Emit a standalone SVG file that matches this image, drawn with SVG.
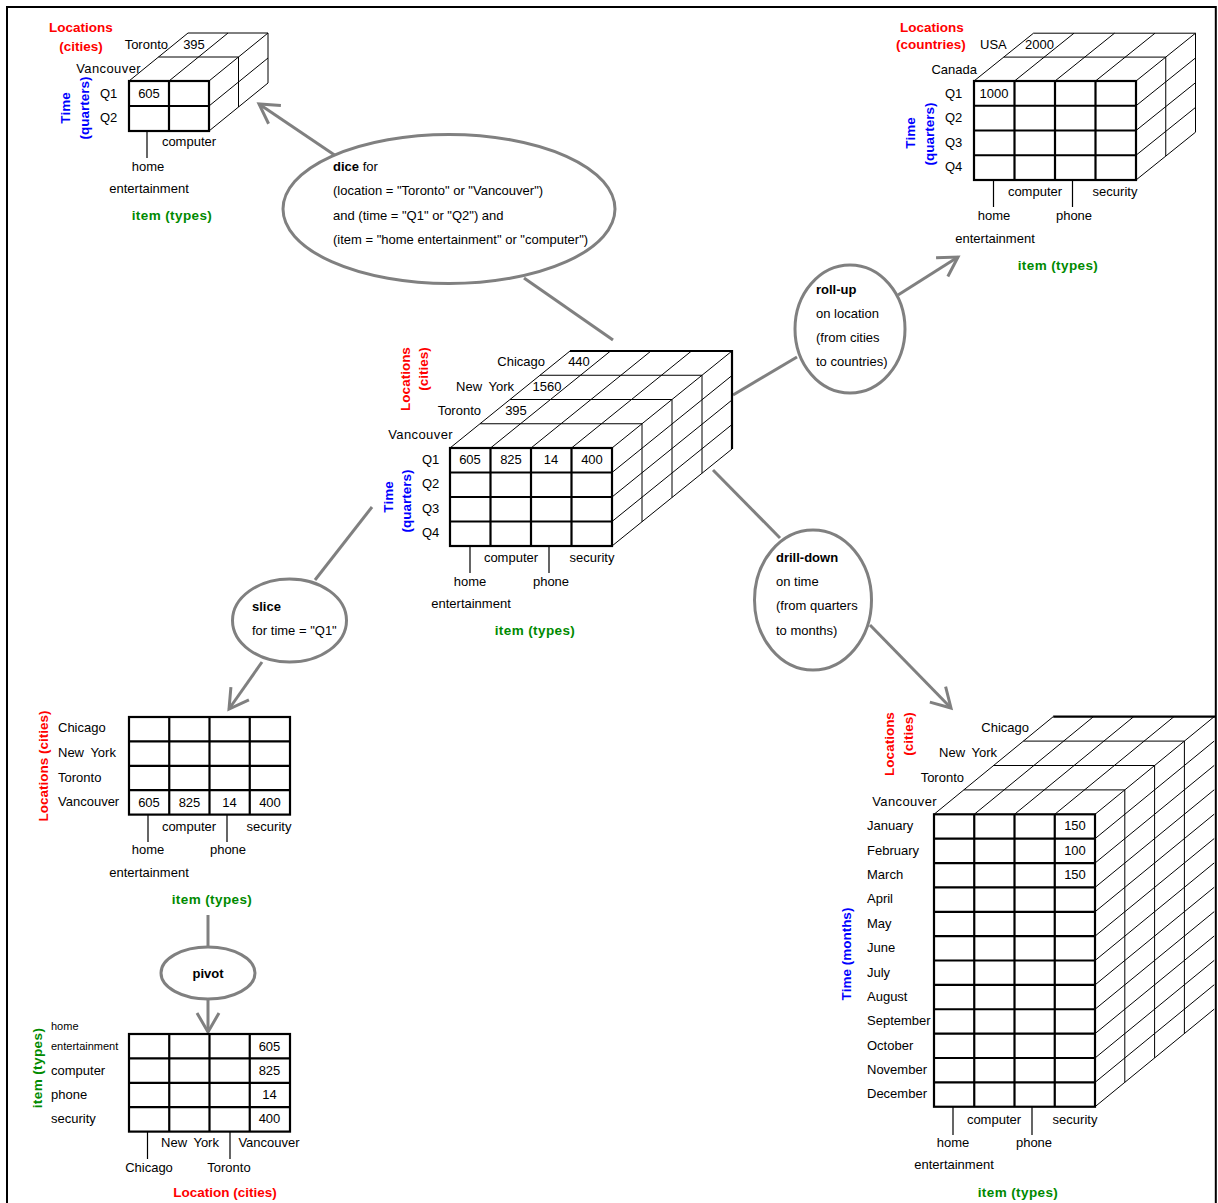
<svg xmlns="http://www.w3.org/2000/svg" width="1218" height="1203" viewBox="0 0 1218 1203">
  <style>
    text { font-family: "Liberation Sans", Arial, sans-serif; font-size: 13px; fill: #000; dominant-baseline: central; }
    .b { font-weight: bold; }
    .lbl { font-weight: bold; font-size: 13.5px; }
    .red { fill: #ff0000; }
    .blue { fill: #0000ff; }
    .green { fill: #008a00; letter-spacing: 0.4px; }
    .mid { text-anchor: middle; }
    .end { text-anchor: end; }
    .wide { letter-spacing: 0.4px; }
    .ny { word-spacing: 3px; }
    .sm { font-size: 11px; }
    .thin { fill: none; stroke: #000; stroke-width: 1; }
    .thick { fill: none; stroke: #000; stroke-width: 2.2; }
    .tick { fill: none; stroke: #000; stroke-width: 1.2; }
    .conn { fill: none; stroke: #808080; stroke-width: 3; }
    .op { fill: #fff; stroke: #808080; stroke-width: 3; }
  </style>
  <defs>
    <marker id="arrow" markerUnits="userSpaceOnUse" orient="auto" refX="0" refY="0" markerWidth="40" markerHeight="40" overflow="visible">
      <path d="M-19,-11 L0,0 L-19,11" fill="none" stroke="#808080" stroke-width="3"/>
    </marker>
  </defs>

  <rect x="7" y="7" width="1208.8" height="1210" fill="none" stroke="#000" stroke-width="2"/>

  <!-- operation connectors -->
  <g id="connectors">
    <line class="conn" x1="613" y1="340" x2="524" y2="278"/>
    <line class="conn" x1="336" y1="156" x2="259" y2="104" marker-end="url(#arrow)"/>
    <line class="conn" x1="733" y1="395" x2="797" y2="357"/>
    <line class="conn" x1="898" y1="295" x2="958" y2="257" marker-end="url(#arrow)"/>
    <line class="conn" x1="713" y1="470" x2="780" y2="538"/>
    <line class="conn" x1="870" y1="625" x2="951" y2="708" marker-end="url(#arrow)"/>
    <line class="conn" x1="372" y1="507" x2="315" y2="580"/>
    <line class="conn" x1="262" y1="662" x2="229" y2="709" marker-end="url(#arrow)"/>
    <line class="conn" x1="208" y1="915" x2="208" y2="947"/>
    <line class="conn" x1="208" y1="999" x2="208" y2="1032" marker-end="url(#arrow)"/>
  </g>

  <!-- base cube: locations x time (quarters) x item -->
  <g id="cube-base">
    <path class="thin" d="M450,448 L570,351 M490.5,448 L610.5,351 M531,448 L651,351 M571.5,448 L691.5,351 M612,448 L732,351
      M480,423.75 H642 M510,399.5 H672 M540,375.25 H702
      M612,472.5 L732,375.5 M612,497 L732,400 M612,521.5 L732,424.5 M612,546 L732,449
      M642,423.75 V521.75 M672,399.5 V497.5 M702,375.25 V473.25"/>
    <path class="thick" d="M570,351 H732 V449"/>
    <rect class="thick" x="450" y="448" width="162" height="98"/>
    <path class="thick" d="M490.5,448 V546 M531,448 V546 M571.5,448 V546 M450,472.5 H612 M450,497 H612 M450,521.5 H612"/>
    <path class="tick" d="M470,546 V573 M549,546 V573"/>
    <text class="lbl red mid" transform="translate(405,379) rotate(-90)">Locations</text>
    <text class="lbl red mid" transform="translate(423,369) rotate(-90)">(cities)</text>
    <text class="lbl blue mid" transform="translate(388,497) rotate(-90)">Time</text>
    <text class="lbl blue mid" transform="translate(406,501) rotate(-90)">(quarters)</text>
    <text class="end" x="545" y="361">Chicago</text>
    <text class="mid" x="579" y="361">440</text>
    <text class="end ny" x="514" y="386">New York</text>
    <text class="mid" x="547" y="386">1560</text>
    <text class="end" x="481" y="410">Toronto</text>
    <text class="mid" x="516" y="410">395</text>
    <text class="end wide" x="453" y="434">Vancouver</text>
    <text x="422" y="459">Q1</text>
    <text x="422" y="483.5">Q2</text>
    <text x="422" y="508">Q3</text>
    <text x="422" y="532">Q4</text>
    <text class="mid" x="470" y="459">605</text>
    <text class="mid" x="511" y="459">825</text>
    <text class="mid" x="551" y="459">14</text>
    <text class="mid" x="592" y="459">400</text>
    <text class="mid" x="511" y="557">computer</text>
    <text class="mid" x="592" y="557">security</text>
    <text class="mid" x="470" y="581">home</text>
    <text class="mid" x="551" y="581">phone</text>
    <text class="mid" x="471" y="603">entertainment</text>
    <text class="lbl green mid" x="535" y="630">item (types)</text>
  </g>

  <!-- dice result -->
  <g id="cube-dice">
    <path class="thin" d="M129,81 L188,33 M169,81 L228,33 M209,81 L268,33
      M158.5,57 H238.5 M188,33 H268
      M209,106 L268,58 M209,131 L268,83
      M238.5,57 V107 M268,33 V83"/>
    <rect class="thick" x="129" y="81" width="80" height="50"/>
    <path class="thick" d="M169,81 V131 M129,106 H209"/>
    <path class="tick" d="M147,131 V158"/>
    <text class="lbl red mid" x="81" y="27">Locations</text>
    <text class="lbl red mid" x="81" y="46">(cities)</text>
    <text class="lbl blue mid" transform="translate(65,108) rotate(-90)">Time</text>
    <text class="lbl blue mid" transform="translate(84,108) rotate(-90)">(quarters)</text>
    <text class="end" x="168" y="44">Toronto</text>
    <text class="mid" x="194" y="44">395</text>
    <text class="end wide" x="141" y="68">Vancouver</text>
    <text x="100" y="93">Q1</text>
    <text x="100" y="117">Q2</text>
    <text class="mid" x="149" y="93">605</text>
    <text class="mid" x="189" y="141">computer</text>
    <text class="mid" x="148" y="166">home</text>
    <text class="mid" x="149" y="188">entertainment</text>
    <text class="lbl green mid" x="172" y="215">item (types)</text>
  </g>

  <!-- roll-up result -->
  <g id="cube-rollup">
    <path class="thin" d="M974,81 L1033.5,33.2 M1014.5,81 L1074,33.2 M1055,81 L1114.5,33.2 M1095.5,81 L1155,33.2 M1136,81 L1195.5,33.2
      M1003.75,57.1 H1165.75 M1033.5,33.2 H1195.5
      M1136,105.75 L1195.5,57.95 M1136,130.5 L1195.5,82.7 M1136,155.25 L1195.5,107.45 M1136,180 L1195.5,132.2
      M1165.75,57.1 V156.1 M1195.5,33.2 V132.2"/>
    <rect class="thick" x="974" y="81" width="162" height="99"/>
    <path class="thick" d="M1014.5,81 V180 M1055,81 V180 M1095.5,81 V180 M974,105.75 H1136 M974,130.5 H1136 M974,155.25 H1136"/>
    <path class="tick" d="M993.5,180 V207 M1072.5,180 V207"/>
    <text class="lbl red mid" x="932" y="27">Locations</text>
    <text class="lbl red mid" x="931" y="44">(countries)</text>
    <text class="lbl blue mid" transform="translate(910,133) rotate(-90)">Time</text>
    <text class="lbl blue mid" transform="translate(929,134) rotate(-90)">(quarters)</text>
    <text x="980" y="44">USA</text>
    <text x="1025" y="44">2000</text>
    <text class="end" x="977" y="69">Canada</text>
    <text x="945" y="93">Q1</text>
    <text x="945" y="117.5">Q2</text>
    <text x="945" y="142">Q3</text>
    <text x="945" y="166.5">Q4</text>
    <text class="mid" x="994" y="93">1000</text>
    <text class="mid" x="1035" y="191">computer</text>
    <text class="mid" x="1115" y="191">security</text>
    <text class="mid" x="994" y="215.5">home</text>
    <text class="mid" x="1074" y="215.5">phone</text>
    <text class="mid" x="995" y="238">entertainment</text>
    <text class="lbl green mid" x="1058" y="265">item (types)</text>
  </g>

  <!-- drill-down result -->
  <g id="cube-drilldown">
    <path class="thin" d="M934,814.3 L1053.2,716.7 M974.25,814.3 L1093.45,716.7 M1014.5,814.3 L1133.7,716.7 M1054.75,814.3 L1173.95,716.7 M1095,814.3 L1214.2,716.7
      M963.8,789.9 H1124.8 M993.6,765.5 H1154.6 M1023.4,741.1 H1184.4
      M1095,838.67 L1214.2,741.07 M1095,863.04 L1214.2,765.44 M1095,887.41 L1214.2,789.81 M1095,911.78 L1214.2,814.18
      M1095,936.15 L1214.2,838.55 M1095,960.52 L1214.2,862.92 M1095,984.89 L1214.2,887.29 M1095,1009.26 L1214.2,911.66
      M1095,1033.63 L1214.2,936.03 M1095,1058 L1214.2,960.4 M1095,1082.37 L1214.2,984.77 M1095,1106.74 L1214.2,1009.14
      M1124.8,789.9 V1082.3 M1154.6,765.5 V1057.9 M1184.4,741.1 V1033.5"/>
    <path class="thick" d="M1053.2,716.7 H1215.8"/>
    <rect class="thick" x="934" y="814.3" width="161" height="292.44"/>
    <path class="thick" d="M974.25,814.3 V1106.74 M1014.5,814.3 V1106.74 M1054.75,814.3 V1106.74
      M934,838.67 H1095 M934,863.04 H1095 M934,887.41 H1095 M934,911.78 H1095 M934,936.15 H1095 M934,960.52 H1095
      M934,984.89 H1095 M934,1009.26 H1095 M934,1033.63 H1095 M934,1058 H1095 M934,1082.37 H1095"/>
    <path class="tick" d="M953,1106.74 V1135 M1032,1106.74 V1135"/>
    <text class="lbl red mid" transform="translate(889,744) rotate(-90)">Locations</text>
    <text class="lbl red mid" transform="translate(908,734) rotate(-90)">(cities)</text>
    <text class="lbl blue mid" transform="translate(846,954) rotate(-90)">Time (months)</text>
    <text class="end" x="1029" y="727">Chicago</text>
    <text class="end ny" x="997" y="752">New York</text>
    <text class="end" x="964" y="777">Toronto</text>
    <text class="end wide" x="937" y="801">Vancouver</text>
    <text x="867" y="825.8">January</text>
    <text x="867" y="850.2">February</text>
    <text x="867" y="874.5">March</text>
    <text x="867" y="898.9">April</text>
    <text x="867" y="923.3">May</text>
    <text x="867" y="947.6">June</text>
    <text x="867" y="972">July</text>
    <text x="867" y="996.4">August</text>
    <text x="867" y="1020.7">September</text>
    <text x="867" y="1045.1">October</text>
    <text x="867" y="1069.5">November</text>
    <text x="867" y="1093.9">December</text>
    <text class="mid" x="1075" y="825.8">150</text>
    <text class="mid" x="1075" y="850.2">100</text>
    <text class="mid" x="1075" y="874.5">150</text>
    <text class="mid" x="994" y="1119">computer</text>
    <text class="mid" x="1075" y="1119">security</text>
    <text class="mid" x="953" y="1142">home</text>
    <text class="mid" x="1034" y="1142">phone</text>
    <text class="mid" x="954" y="1164">entertainment</text>
    <text class="lbl green mid" x="1018" y="1192">item (types)</text>
  </g>

  <!-- slice result: locations x item for Q1 -->
  <g id="table-slice">
    <rect class="thick" x="129" y="717" width="161" height="97.6"/>
    <path class="thick" d="M169.25,717 V814.6 M209.5,717 V814.6 M249.75,717 V814.6 M129,741.4 H290 M129,765.8 H290 M129,790.2 H290"/>
    <path class="tick" d="M148,814.6 V842 M227,814.6 V842"/>
    <text class="lbl red mid" transform="translate(43,766) rotate(-90)">Locations (cities)</text>
    <text x="58" y="727">Chicago</text>
    <text class="ny" x="58" y="752">New York</text>
    <text x="58" y="777">Toronto</text>
    <text x="58" y="801">Vancouver</text>
    <text class="mid" x="149" y="802">605</text>
    <text class="mid" x="189.5" y="802">825</text>
    <text class="mid" x="229.5" y="802">14</text>
    <text class="mid" x="270" y="802">400</text>
    <text class="mid" x="189" y="826">computer</text>
    <text class="mid" x="269" y="826">security</text>
    <text class="mid" x="148" y="849">home</text>
    <text class="mid" x="228" y="849">phone</text>
    <text class="mid" x="149" y="872">entertainment</text>
    <text class="lbl green mid" x="212" y="899">item (types)</text>
  </g>

  <!-- pivot result: item x locations -->
  <g id="table-pivot">
    <rect class="thick" x="129" y="1034" width="161" height="97.6"/>
    <path class="thick" d="M169.25,1034 V1131.6 M209.5,1034 V1131.6 M249.75,1034 V1131.6 M129,1058.4 H290 M129,1082.8 H290 M129,1107.2 H290"/>
    <path class="tick" d="M147.5,1131.6 V1159 M230,1131.6 V1159"/>
    <text class="lbl green mid" transform="translate(37,1068) rotate(-90)">item (types)</text>
    <text class="sm" x="51" y="1026">home</text>
    <text class="sm" x="51" y="1046">entertainment</text>
    <text x="51" y="1070">computer</text>
    <text x="51" y="1094">phone</text>
    <text x="51" y="1118">security</text>
    <text class="mid" x="269.5" y="1046">605</text>
    <text class="mid" x="269.5" y="1070">825</text>
    <text class="mid" x="269.5" y="1094">14</text>
    <text class="mid" x="269.5" y="1118">400</text>
    <text class="mid ny" x="190" y="1142">New York</text>
    <text class="mid" x="269" y="1142">Vancouver</text>
    <text class="mid" x="149" y="1167">Chicago</text>
    <text class="mid" x="229" y="1167">Toronto</text>
    <text class="lbl red mid" x="225" y="1192">Location (cities)</text>
  </g>

  <!-- OLAP operations -->
  <g id="op-dice">
    <ellipse class="op" cx="449" cy="209" rx="166" ry="74.5"/>
    <text x="333" y="166"><tspan class="b">dice</tspan> for</text>
    <text x="333" y="190">(location = "Toronto" or "Vancouver")</text>
    <text x="333" y="215">and (time = "Q1" or "Q2") and</text>
    <text x="333" y="239">(item = "home entertainment" or "computer")</text>
  </g>
  <g id="op-rollup">
    <ellipse class="op" cx="850" cy="329" rx="55" ry="64"/>
    <text class="b" x="816" y="289">roll-up</text>
    <text x="816" y="313">on location</text>
    <text x="816" y="337">(from cities</text>
    <text x="816" y="361">to countries)</text>
  </g>
  <g id="op-drilldown">
    <ellipse class="op" cx="813" cy="600" rx="58.5" ry="70"/>
    <text class="b" x="776" y="557">drill-down</text>
    <text x="776" y="581">on time</text>
    <text x="776" y="605">(from quarters</text>
    <text x="776" y="630">to months)</text>
  </g>
  <g id="op-slice">
    <ellipse class="op" cx="289.5" cy="620.5" rx="57" ry="41.5"/>
    <text class="b" x="252" y="606">slice</text>
    <text x="252" y="630">for time = "Q1"</text>
  </g>
  <g id="op-pivot">
    <ellipse class="op" cx="208" cy="973" rx="47" ry="26"/>
    <text class="b mid" x="208" y="973">pivot</text>
  </g>
</svg>
